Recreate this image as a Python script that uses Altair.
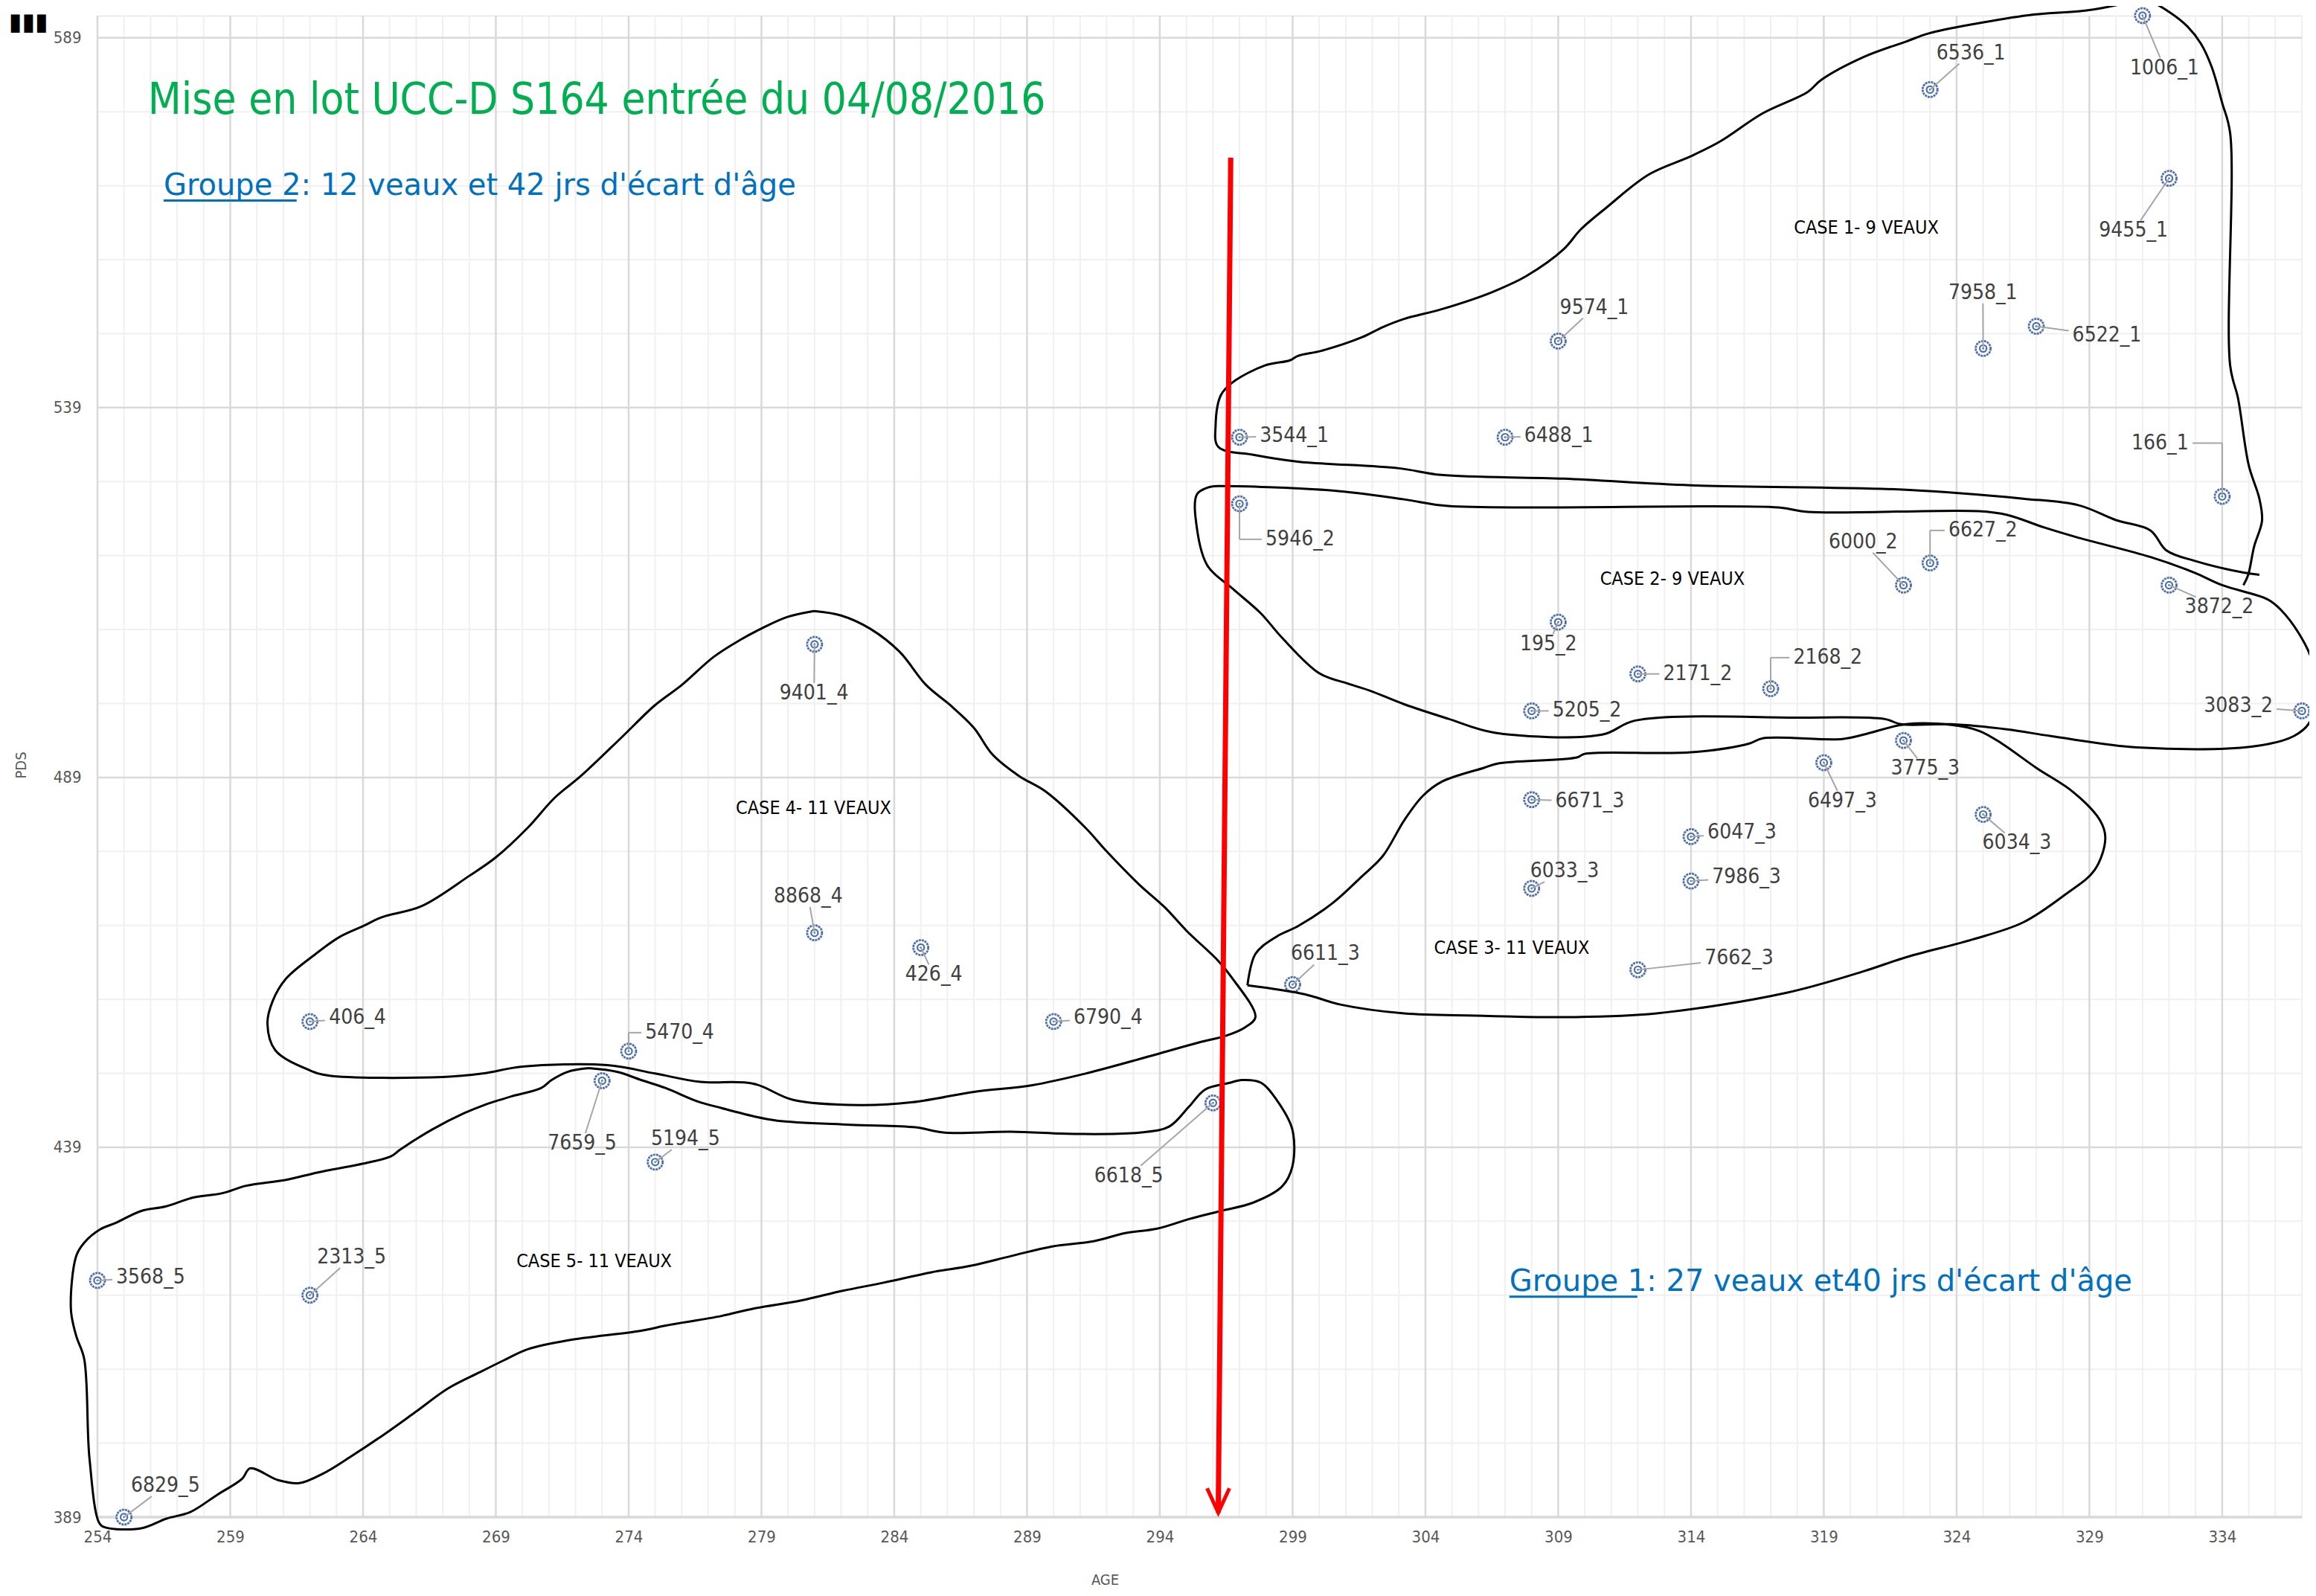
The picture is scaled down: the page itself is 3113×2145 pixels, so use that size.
import altair as alt
import pandas as pd

# ---------------- texts ----------------
TITLE = "Mise en lot UCC-D S164 entrée du 04/08/2016"
GROUP2 = "Groupe 2: 12 veaux et 42 jrs d'écart d'âge"
GROUP1 = "Groupe 1: 27 veaux et40 jrs d'écart d'âge"
CORNER = "▮▮▮"

# ---------------- data (AGE, PDS) ----------------
ids = ["1006_1", "6536_1", "9455_1", "9574_1", "7958_1", "6522_1", "3544_1", "6488_1", "166_1",
       "5946_2", "6627_2", "6000_2", "3872_2", "195_2", "2171_2", "2168_2", "5205_2", "3083_2",
       "3775_3", "6497_3", "6671_3", "6034_3", "6047_3", "6033_3", "7986_3", "7662_3", "6611_3",
       "9401_4", "8868_4", "426_4", "406_4", "6790_4", "5470_4",
       "7659_5", "6618_5", "5194_5", "3568_5", "2313_5", "6829_5"]
age = [331, 323, 332, 309, 325, 327, 297, 307, 334,
       297, 323, 322, 332, 309, 312, 317, 308, 337,
       322, 319, 308, 325, 314, 308, 314, 312, 299,
       281, 281, 285, 262, 290, 274,
       273, 296, 275, 254, 262, 255]
pds = [592, 582, 570, 548, 547, 550, 535, 535, 527,
       526, 518, 515, 515, 510, 503, 501, 498, 498,
       494, 491, 486, 484, 481, 474, 475, 463, 461,
       507, 468, 466, 456, 456, 452,
       448, 445, 437, 421, 419, 389]

# label anchors (data units)
lab_age = [331.83, 324.54, 330.66, 310.36, 324.99, 329.66, 299.06, 309.02, 331.66,
           299.28, 324.99, 320.48, 333.89, 308.63, 314.25, 319.15, 310.08, 334.61,
           322.82, 319.70, 310.19, 326.27, 315.92, 309.24, 316.09, 315.81, 300.23,
           280.98, 280.76, 285.49, 263.79, 292.05, 275.92,
           272.25, 292.83, 276.14, 256.00, 263.57, 256.56]
lab_pds = [584.9, 586.9, 562.9, 552.5, 554.5, 548.7, 535.2, 535.2, 534.2,
           521.2, 522.4, 520.8, 512.0, 507.0, 503.0, 505.2, 498.0, 498.6,
           490.2, 485.8, 485.8, 480.1, 481.5, 476.3, 475.5, 464.5, 465.1,
           500.4, 472.9, 462.3, 456.5, 456.5, 454.5,
           439.5, 435.1, 440.1, 421.4, 424.1, 393.2]
elbow_ids = {"166_1", "5946_2", "6627_2", "2168_2", "5470_4"}

# case annotations
case_labels = ["CASE 1- 9 VEAUX", "CASE 2- 9 VEAUX", "CASE 3- 11 VEAUX",
               "CASE 4- 11 VEAUX", "CASE 5- 11 VEAUX"]
case_label_age = [320.6, 313.3, 307.25, 280.96, 272.7]
case_label_pds = [563.3, 515.8, 465.95, 484.9, 423.6]

# hand drawn outlines (data units)
outline_1 = [(335.4, 516.4), (334.8, 516.7), (332.95, 518.3), (331.9, 519.7), (331.3, 522.4),
             (330.0, 523.8), (328.6, 525.8), (326.5, 526.7), (322.1, 527.9), (314.0, 528.5),
             (309.2, 529.4), (304.6, 529.9), (303.0, 530.8), (299.2, 531.7), (297.56, 532.6),
             (296.2, 533.7), (296.1, 536.6), (296.3, 540.7), (296.75, 542.45), (297.96, 544.7),
             (298.9, 545.4), (299.2, 546.0), (300.1, 546.7), (301.6, 548.5), (302.4, 549.9),
             (303.2, 551.0), (304.6, 552.3), (306.5, 554.6), (307.8, 556.8), (309.2, 560.4),
             (309.85, 563.1), (310.8, 566.0), (312.4, 570.5), (314.0, 573.0), (315.1, 575.0),
             (316.7, 578.8), (318.4, 581.7), (318.9, 583.3), (320.5, 586.4), (322.1, 588.5),
             (322.95, 589.6), (324.7, 590.9), (326.7, 592.06), (328.9, 592.7), (330.0, 593.4),
             (330.5, 593.85), (331.3, 593.85), (332.0, 592.5), (332.7, 590.5), (333.2, 588.2),
             (333.6, 585.1), (334.0, 580.2), (334.3, 576.1), (334.3, 544.7), (334.6, 540.2),
             (335.0, 531.2), (335.4, 526.7), (335.5, 523.7), (335.2, 520.2), (334.98, 516.4),
             (334.8, 515.0)]
outline_2 = [(295.9, 528.3), (296.2, 528.4), (300.5, 527.8), (303.2, 526.6), (304.85, 525.7),
             (317.3, 525.5), (318.4, 524.9), (324.85, 525.0), (325.9, 524.5), (327.3, 522.8),
             (328.6, 521.4), (331.3, 518.8), (332.95, 516.7), (334.0, 515.0), (335.7, 513.1),
             (336.2, 511.7), (336.9, 508.4), (337.4, 504.6), (337.5, 500.5), (337.3, 496.5),
             (336.7, 494.6), (335.1, 493.16), (330.8, 493.06), (327.55, 494.6), (325.9, 495.5),
             (323.8, 496.2), (321.9, 496.2), (321.3, 496.9), (318.1, 497.1), (311.9, 496.7),
             (310.66, 494.8), (306.6, 495.06), (304.85, 496.95), (303.2, 498.9), (301.9, 500.75),
             (301.07, 501.7), (300.0, 503.1), (298.6, 507.9), (297.8, 511.2), (296.75, 514.5),
             (295.8, 517.6), (295.4, 522.6), (295.4, 527.3), (295.9, 528.3)]
outline_3 = [(297.3, 460.9), (297.6, 465.15), (298.4, 467.5), (299.2, 468.9), (300.5, 472.0),
             (301.6, 475.6), (302.4, 478.4), (303.2, 483.2), (303.9, 486.5), (304.6, 488.4),
             (306.2, 490.3), (306.75, 490.9), (309.7, 491.7), (310.0, 492.2), (314.0, 492.4),
             (316.2, 493.6), (316.7, 494.3), (319.7, 494.2), (320.5, 494.8), (322.1, 496.2),
             (323.8, 496.1), (324.85, 495.3), (325.7, 493.6), (327.0, 490.3), (328.4, 487.0),
             (329.4, 483.2), (329.6, 480.8), (329.2, 476.5), (328.1, 473.2), (326.5, 469.4),
             (324.6, 467.1), (322.1, 464.7), (320.5, 462.8), (317.6, 459.9), (312.7, 457.1),
             (309.4, 456.6), (305.9, 456.8), (303.2, 457.1), (300.8, 458.3), (299.45, 459.7),
             (297.3, 460.9)]
outline_4 = [(280.98, 511.5), (279.98, 510.7), (278.98, 509.1), (278.2, 507.6), (277.2, 505.3),
             (276.0, 501.5), (275.0, 498.8), (273.7, 494.3), (272.2, 489.2), (271.2, 486.2),
             (270.2, 482.2), (269.0, 478.2), (268.0, 475.7), (266.2, 471.6), (264.7, 470.1),
             (264.0, 468.9), (263.1, 467.4), (262.2, 465.1), (261.1, 461.8), (260.6, 458.8),
             (260.4, 455.7), (260.7, 452.1), (262.0, 449.4), (262.7, 448.7), (267.0, 448.5),
             (268.5, 448.97), (270.0, 449.9), (273.2, 450.1), (275.0, 448.97), (276.7, 447.85),
             (278.7, 447.6), (280.2, 445.4), (282.7, 444.7), (284.7, 445.1), (287.0, 446.5),
             (289.2, 447.4), (291.2, 448.97), (294.0, 451.7), (295.5, 453.2), (296.5, 454.1),
             (297.2, 455.2), (297.6, 456.6), (296.7, 462.0), (296.2, 464.2), (295.0, 468.3),
             (294.2, 471.4), (293.2, 474.6), (292.0, 479.0), (291.2, 482.2), (289.7, 487.1),
             (288.7, 489.2), (287.7, 492.1), (287.0, 495.7), (286.1, 498.8), (285.2, 501.5),
             (284.2, 506.0), (283.1, 509.1), (282.0, 510.9), (280.98, 511.5)]
outline_5 = [(272.5, 449.7), (273.56, 449.2), (274.47, 448.1), (275.4, 447.0), (276.6, 445.2),
             (277.5, 444.3), (278.7, 443.2), (279.6, 442.6), (282.36, 442.05), (284.8, 441.7),
             (285.85, 441.0), (288.4, 441.1), (290.9, 440.8), (293.3, 441.0), (294.35, 441.8),
             (295.1, 444.5), (295.7, 446.8), (296.6, 447.7), (297.1, 448.1), (297.8, 447.75),
             (298.4, 445.4), (298.99, 441.4), (298.99, 436.4), (298.6, 433.7), (297.5, 431.5),
             (296.3, 430.4), (295.1, 429.3), (293.9, 428.0), (292.7, 427.4), (291.5, 426.3),
             (289.95, 425.6), (288.4, 424.3), (286.9, 423.0), (285.4, 422.1), (283.6, 420.7),
             (282.06, 419.6), (280.5, 418.3), (278.7, 417.2), (277.5, 416.2), (275.4, 414.9),
             (274.47, 414.2), (271.7, 412.9), (270.2, 411.7), (269.3, 410.2), (268.4, 408.6),
             (267.2, 406.4), (265.97, 403.2), (264.76, 400.1), (263.5, 397.1), (262.5, 394.9),
             (261.6, 393.6), (260.8, 394.0), (259.75, 395.6), (259.45, 394.2), (258.5, 392.0),
             (257.5, 389.7), (256.6, 388.8), (255.65, 387.5), (254.3, 387.6), (254.07, 388.2),
             (253.7, 396.9), (253.5, 410.4), (253.2, 413.5), (253.0, 417.1), (253.2, 424.3),
             (253.5, 426.1), (254.1, 427.9), (254.7, 428.8), (255.65, 430.4), (256.56, 431.0),
             (257.6, 432.2), (258.7, 432.8), (259.6, 433.8), (261.1, 434.6), (262.3, 435.6),
             (264.15, 436.9), (265.06, 437.8), (265.4, 438.7), (266.6, 441.4), (267.8, 443.6),
             (268.55, 444.7), (269.6, 445.9), (270.7, 447.0), (271.1, 448.1), (271.7, 449.2),
             (272.5, 449.7)]
outlines = [outline_1, outline_2, outline_3, outline_4, outline_5]

# red arrow (data units)
arrow_age = [296.67, 296.2]
arrow_pds = [572.8, 389.6]
arrow_head_age = [295.78, 296.2, 296.62]
arrow_head_pds = [392.9, 389.6, 392.9]

# text annotation anchors
title_pos = (255.9, 578.7)
group2_pos = (256.49, 567.76)
group2_underline = (256.49, 261.5, 567.0)
group1_pos = (307.16, 419.6)
group1_underline = (307.16, 311.98, 418.8)
corner_pos = (251.4, 591.1)

x_ticks = [254, 259, 264, 269, 274, 279, 284, 289, 294, 299, 304, 309, 314, 319, 324, 329, 334]
y_ticks = [389, 439, 489, 539, 589]
x_minor = [v for v in range(254, 338) if v not in x_ticks]
y_minor = [v for v in range(389, 593, 10) if v not in y_ticks]

# ---------------- styles ----------------
CAL = "DejaVu Sans Condensed"
COMIC = "DejaVu Sans"
BLUE_PT = "#4d6fae"
LBL = "#404040"
AX = "#595959"

X = alt.Scale(domain=[254, 337], nice=False, zero=False)
Y = alt.Scale(domain=[389, 592], nice=False, zero=False)

AXIS_X = alt.Axis(values=x_ticks, grid=False, ticks=False, domain=False, labelFlush=False,
                  labelFont=CAL, labelFontSize=22, labelColor=AX, labelPadding=16,
                  title="AGE", titleFont=CAL, titleFontSize=20, titleColor=AX,
                  titleFontWeight="normal", titleX=1354, titleY=84, titleBaseline="middle")
AXIS_Y = alt.Axis(values=y_ticks, grid=False, ticks=False, domain=False, labelFlush=False,
                  labelFont=CAL, labelFontSize=22, labelColor=AX, labelPadding=22,
                  title="PDS", titleFont=CAL, titleFontSize=20, titleColor=AX,
                  titleFontWeight="normal", titleX=-103, titleY=1007, titleBaseline="middle")


def xq(f):
    return alt.X(f, scale=X, axis=AXIS_X)


def yq(f):
    return alt.Y(f, scale=Y, axis=AXIS_Y)


# ---------------- derived frames ----------------
pts = pd.DataFrame({"id": ids, "age": age, "pds": pds, "la": lab_age, "lp": lab_pds})

CHAR_W = 0.43
HALF_H = 1.4
segs = []
for t, a, p, la, lp in zip(ids, age, pds, lab_age, lab_pds):
    hw = len(t) * CHAR_W / 2 + 0.15
    if t in elbow_ids:
        edge = la - hw if la > a else la + hw
        segs.append((a, p, a, lp))
        segs.append((a, lp, edge, lp))
    else:
        dx, dy = a - la, p - lp
        s = min(hw / abs(dx) if dx else 1e9, HALF_H / abs(dy) if dy else 1e9)
        if s < 1:
            segs.append((a, p, la + s * dx, lp + s * dy))
seg_df = pd.DataFrame(segs, columns=["x", "y", "x2", "y2"])

ol_rows = []
for ci, ol in enumerate(outlines):
    for k, (xx, yy) in enumerate(ol):
        ol_rows.append({"case": ci + 1, "k": k, "x": xx, "y": yy})
ol_df = pd.DataFrame(ol_rows)

# ---------------- layers ----------------
grid_minor_x = alt.Chart(pd.DataFrame({"v": x_minor})).mark_rule(color="#f0f0f0", strokeWidth=2).encode(
    x=xq("v:Q"))
grid_minor_y = alt.Chart(pd.DataFrame({"v": y_minor})).mark_rule(color="#f0f0f0", strokeWidth=2).encode(
    y=yq("v:Q"))
grid_major_x = alt.Chart(pd.DataFrame({"v": x_ticks})).mark_rule(color="#d9d9d9", strokeWidth=2.5).encode(
    x=xq("v:Q"))
grid_major_y = alt.Chart(pd.DataFrame({"v": y_ticks})).mark_rule(color="#d9d9d9", strokeWidth=2.5).encode(
    y=yq("v:Q"))
base_line = alt.Chart(pd.DataFrame({"v": [389]})).mark_rule(color="#d9d9d9", strokeWidth=3.5).encode(
    y=yq("v:Q"))

outline_layer = alt.Chart(ol_df).mark_line(color="black", strokeWidth=3, interpolate="catmull-rom",
                                            clip=False).encode(
    x=xq("x:Q"), y=yq("y:Q"), detail="case:N", order="k:Q")

leaders = alt.Chart(seg_df).mark_rule(color="#a6a6a6", strokeWidth=2).encode(
    x=xq("x:Q"), y=yq("y:Q"), x2="x2:Q", y2="y2:Q")

outer = alt.Chart(pts).mark_point(shape="circle", filled=True, fill="white", fillOpacity=1,
                                  stroke=BLUE_PT, strokeWidth=2.8, strokeDash=[3, 1], size=400,
                                  opacity=1).encode(x=xq("age:Q"), y=yq("pds:Q"))
inner = alt.Chart(pts).mark_point(shape="circle", filled=False, color=BLUE_PT, strokeWidth=2.2,
                                  size=85, opacity=1).encode(x=xq("age:Q"), y=yq("pds:Q"))
dot = alt.Chart(pts).mark_point(shape="circle", filled=True, color=BLUE_PT, size=8, opacity=1).encode(
    x=xq("age:Q"), y=yq("pds:Q"))

labels = alt.Chart(pts).mark_text(font=CAL, fontSize=28, color=LBL, align="center",
                                  baseline="middle").encode(
    x=xq("la:Q"), y=yq("lp:Q"), text="id:N")

case_df = pd.DataFrame({"t": case_labels, "x": case_label_age, "y": case_label_pds})
case_text = alt.Chart(case_df).mark_text(font=CAL, fontSize=25, color="black", align="center",
                                         baseline="middle").encode(
    x=xq("x:Q"), y=yq("y:Q"), text="t:N")

title_text = alt.Chart(pd.DataFrame({"t": [TITLE], "x": [title_pos[0]], "y": [title_pos[1]]})).mark_text(
    font=CAL, fontSize=58, color="#00b050", align="left", baseline="alphabetic").encode(
    x=xq("x:Q"), y=yq("y:Q"), text="t:N")

grp_df = pd.DataFrame({"t": [GROUP2, GROUP1], "x": [group2_pos[0], group1_pos[0]],
                       "y": [group2_pos[1], group1_pos[1]]})
grp_text = alt.Chart(grp_df).mark_text(font=COMIC, fontSize=40, color="#0070c0", align="left",
                                       baseline="alphabetic").encode(
    x=xq("x:Q"), y=yq("y:Q"), text="t:N")
ul_df = pd.DataFrame({"x": [group2_underline[0], group1_underline[0]],
                      "x2": [group2_underline[1], group1_underline[1]],
                      "y": [group2_underline[2], group1_underline[2]]})
underline = alt.Chart(ul_df).mark_rule(color="#0070c0", strokeWidth=3).encode(
    x=xq("x:Q"), x2="x2:Q", y=yq("y:Q"))

arrow_df = pd.DataFrame({"x": [arrow_age[0]], "x2": [arrow_age[1]],
                         "y": [arrow_pds[0]], "y2": [arrow_pds[1]]})
arrow = alt.Chart(arrow_df).mark_rule(color="#ff0000", strokeWidth=7).encode(
    x=xq("x:Q"), x2="x2:Q", y=yq("y:Q"), y2="y2:Q")
head_df = pd.DataFrame({"x": arrow_head_age, "y": arrow_head_pds, "k": [0, 1, 2]})
head = alt.Chart(head_df).mark_line(color="#ff0000", strokeWidth=5, strokeJoin="miter").encode(
    x=xq("x:Q"), y=yq("y:Q"), order="k:Q")

corner = alt.Chart(pd.DataFrame({"t": [CORNER], "x": [corner_pos[0]], "y": [corner_pos[1]]})).mark_text(
    font="DejaVu Sans", fontSize=32, color="black", align="center", baseline="middle").encode(
    x=xq("x:Q"), y=yq("y:Q"), text="t:N")

chart = alt.layer(
    grid_minor_x, grid_minor_y, grid_major_x, grid_major_y, base_line,
    outer, inner, dot, leaders, outline_layer, labels, case_text, title_text, grp_text,
    underline, arrow, head, corner
).properties(
    width=2963, height=2018,
    autosize=alt.AutoSizeParams(type="none"),
    padding={"left": 123, "top": 13, "right": 10, "bottom": 98},
).configure_view(stroke=None).configure(background="white")

chart.save("out.html", embed_options={"renderer": "svg", "actions": False})
